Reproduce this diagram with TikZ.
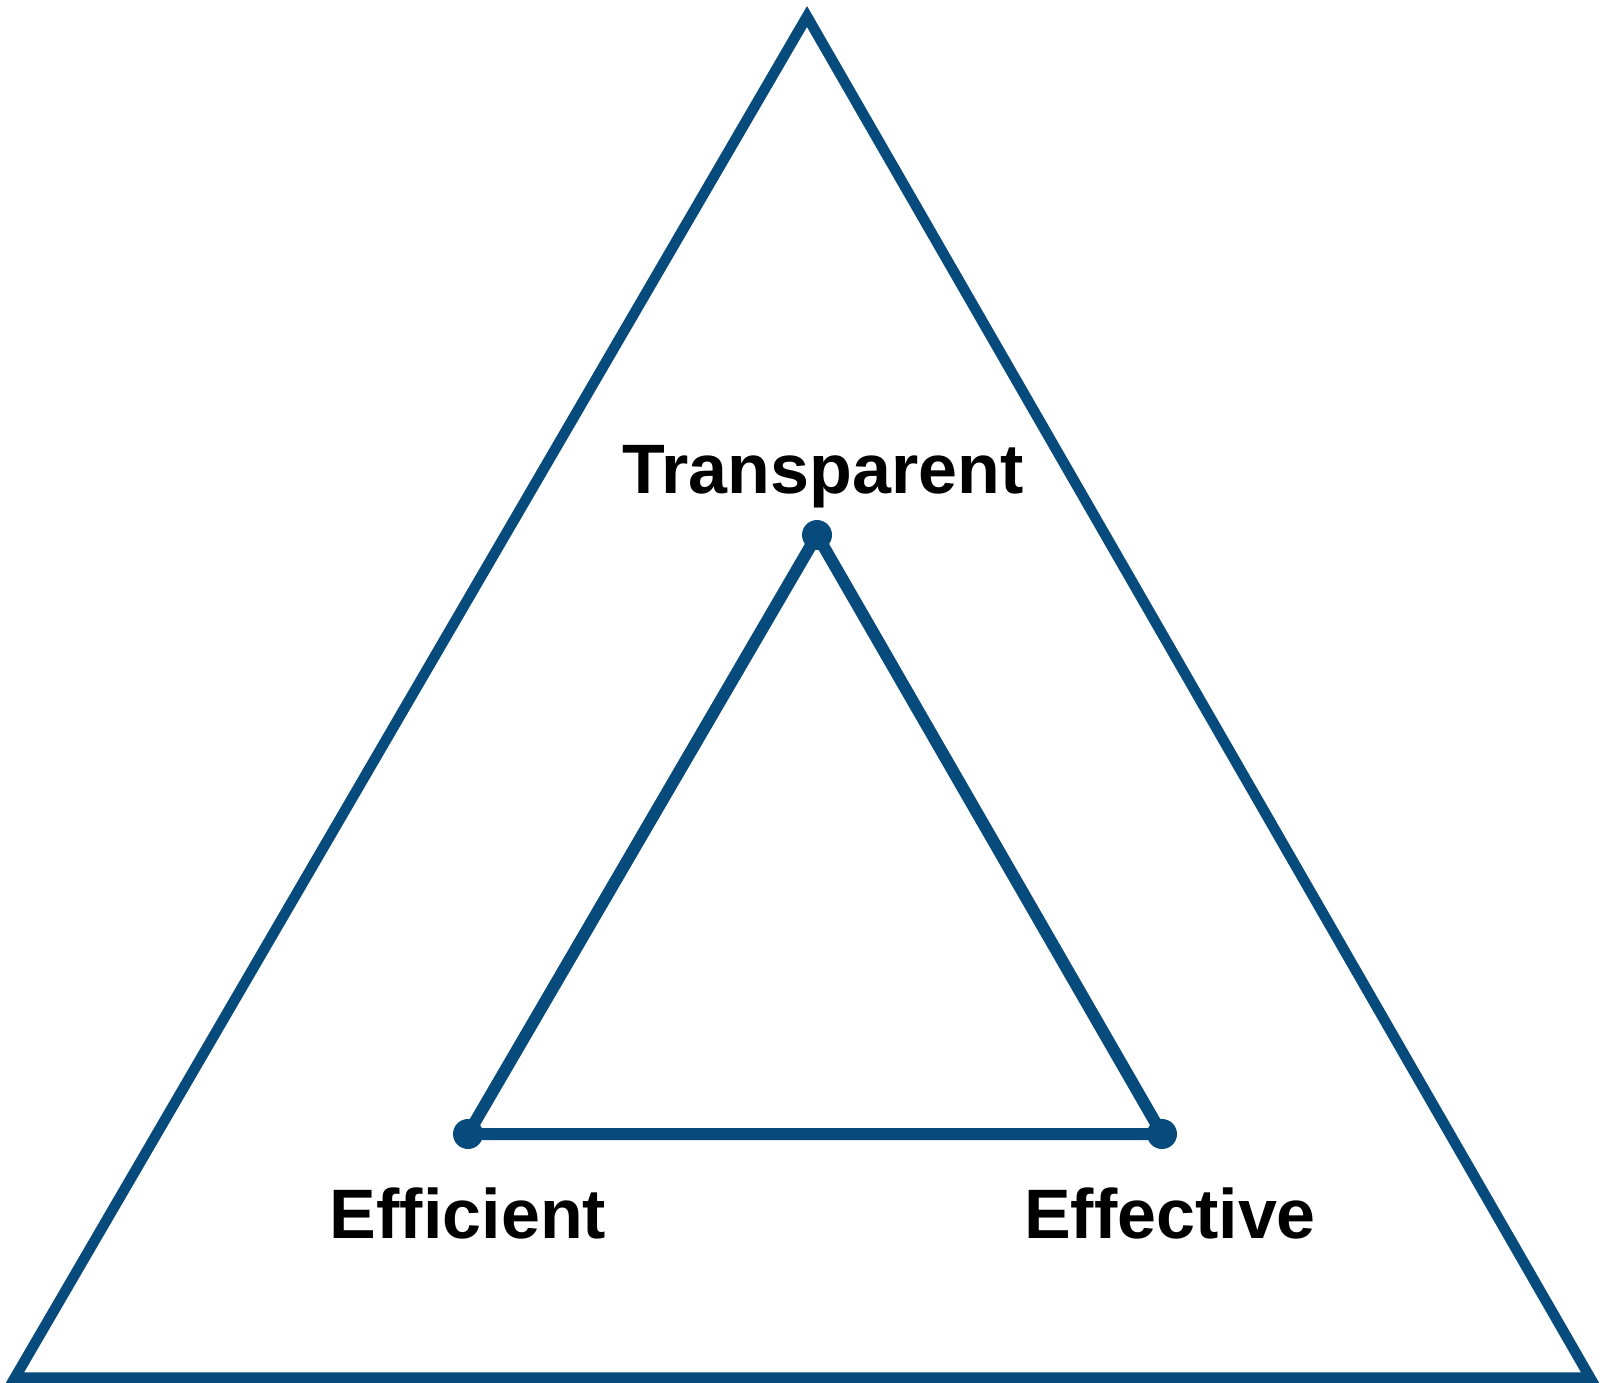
\documentclass[tikz,border=0pt]{standalone}
\usepackage{fontspec}
\setmainfont{Liberation Sans}
\usepackage{tikz}
\usetikzlibrary{positioning}

\definecolor{tblue}{RGB}{6,75,124}

\begin{document}
\begin{tikzpicture}[x=1pt, y=-1pt, line width=10.5pt, line join=miter,
	dot/.style={circle, fill=tblue, inner sep=0pt, minimum size=30pt},
	lbl/.style={font=\fontsize{70}{84}\selectfont\bfseries, anchor=base, inner sep=0pt}]
	\useasboundingbox (0,0) rectangle (1600,1383);

	% Outer triangle
	\coordinate (apex)  at (807,16.5);
	\coordinate (left)  at (15,1377.5);
	\coordinate (right) at (1590,1377.5);
	\draw [tblue] (apex) -- (left) -- (right) -- cycle;

	% Nodes {top, eff, effc}
	\node [dot] (top)  at (817,535)  {};
	\node [dot] (eff)  at (468,1134) {};
	\node [dot] (effc) at (1162,1134) {};

	% Paths
	\draw [tblue, line width=12pt, line join=round] (top.center) -- (eff.center) -- (effc.center) -- cycle;

	% Labels
	\node [lbl] (ltop)  at (823,493)  {Transparent};
	\node [lbl] (leff)  at (468,1238) {Efficient};
	\node [lbl] (leffc) at (1170,1238) {Effective};

\end{tikzpicture}
\end{document}
